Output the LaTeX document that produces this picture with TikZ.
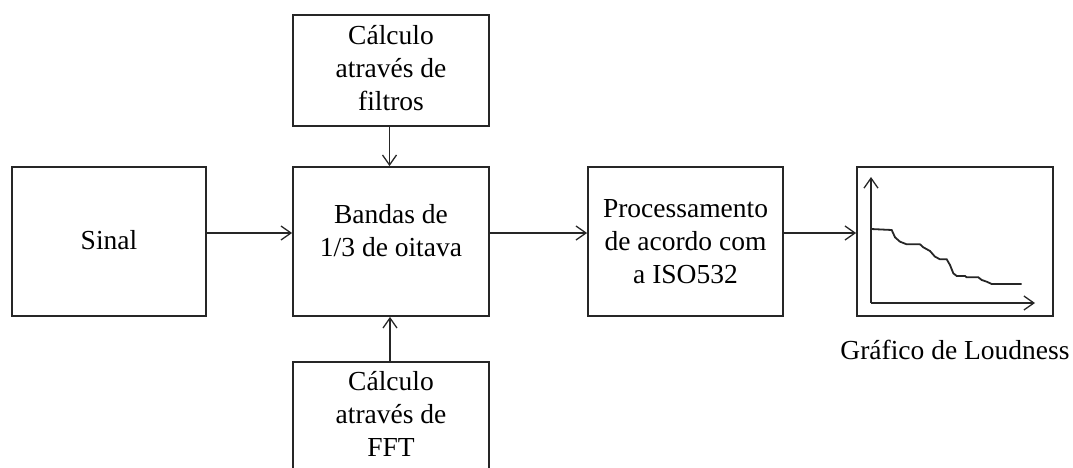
\documentclass[tikz,border=0pt]{standalone}
\usepackage{fontspec}
\setmainfont{Liberation Serif}
\usetikzlibrary{arrows.meta}
\begin{document}
\begin{tikzpicture}[x=1pt,y=-1pt,
  box/.style={draw=black!85, line width=1.8pt, inner sep=0pt},
  txt/.style={align=center, font=\fontsize{27.5}{33}\selectfont, inner sep=0pt},
  conn/.style={draw=black!85, line width=1.7pt, -{Straight Barb[length=10pt,width=14pt,line width=1.3pt]}},
  curve/.style={draw=black!85, line width=1.8pt}]
\useasboundingbox (0,0) rectangle (1073,468);
\clip (0,0) rectangle (1073,468);
\node[box, minimum width=194pt, minimum height=149pt] (sinal) at (109,241.5) {};
\node[txt] (sinalt) at (109,240) {Sinal};
\node[box, minimum width=196pt, minimum height=149pt] (bandas) at (391,241.5) {};
\node[txt] (bandast) at (391,231) {Bandas de\\1/3 de oitava};
\node[box, minimum width=195pt, minimum height=149pt] (proc) at (685.5,241.5) {};
\node[txt] (proct) at (685.5,242) {Processamento\\de acordo com\\a ISO532};
\node[box, minimum width=196pt, minimum height=149pt] (graf) at (955,241.5) {};
\node[box, minimum width=196pt, minimum height=111pt] (filtros) at (391,70.5) {};
\node[txt] (filtrost) at (391,68) {Cálculo\\através de\\filtros};
\node[box, minimum width=196pt, minimum height=111pt] (fft) at (391,417.5) {};
\node[txt] (fftt) at (391,414) {Cálculo\\através de\\FFT};
\node[txt] (grafl) at (955,350) {Gráfico de Loudness};
% connectors
\draw[conn] ([yshift=8.5pt]sinal.east) -- ([yshift=8.5pt]bandas.west);
\draw[conn] ([yshift=8.5pt]bandas.east) -- ([yshift=8.5pt]proc.west);
\draw[conn] ([yshift=8.5pt]proc.east) -- ([yshift=8.5pt]graf.west);
\draw[conn] ([xshift=-1.5pt]filtros.south) -- ([xshift=-1.5pt]bandas.north);
\draw[conn] ([xshift=-1pt]fft.north) -- ([xshift=-1pt]bandas.south);
% graph axes
\coordinate (origin) at (871,303);
\coordinate (ytop) at (871,177);
\coordinate (xend) at (1035,303);
\draw[conn] (origin) -- (ytop);
\draw[conn] (origin) -- (xend);
\draw[curve] (871,229) -- (891.7,230) -- (895,237.3) -- (900,241.7) -- (906.7,244.3) -- (920,244.3) -- (923.3,247.3) -- (930,251) -- (935,256.7) -- (940,259.3) -- (946.7,259.3) -- (950,265) -- (953.3,273.3) -- (956.7,276) -- (965,276) -- (966.7,277.3) -- (978.3,277.3) -- (981.7,280) -- (986.7,281.7) -- (991.7,284) -- (1021.7,284);
\end{tikzpicture}
\end{document}
